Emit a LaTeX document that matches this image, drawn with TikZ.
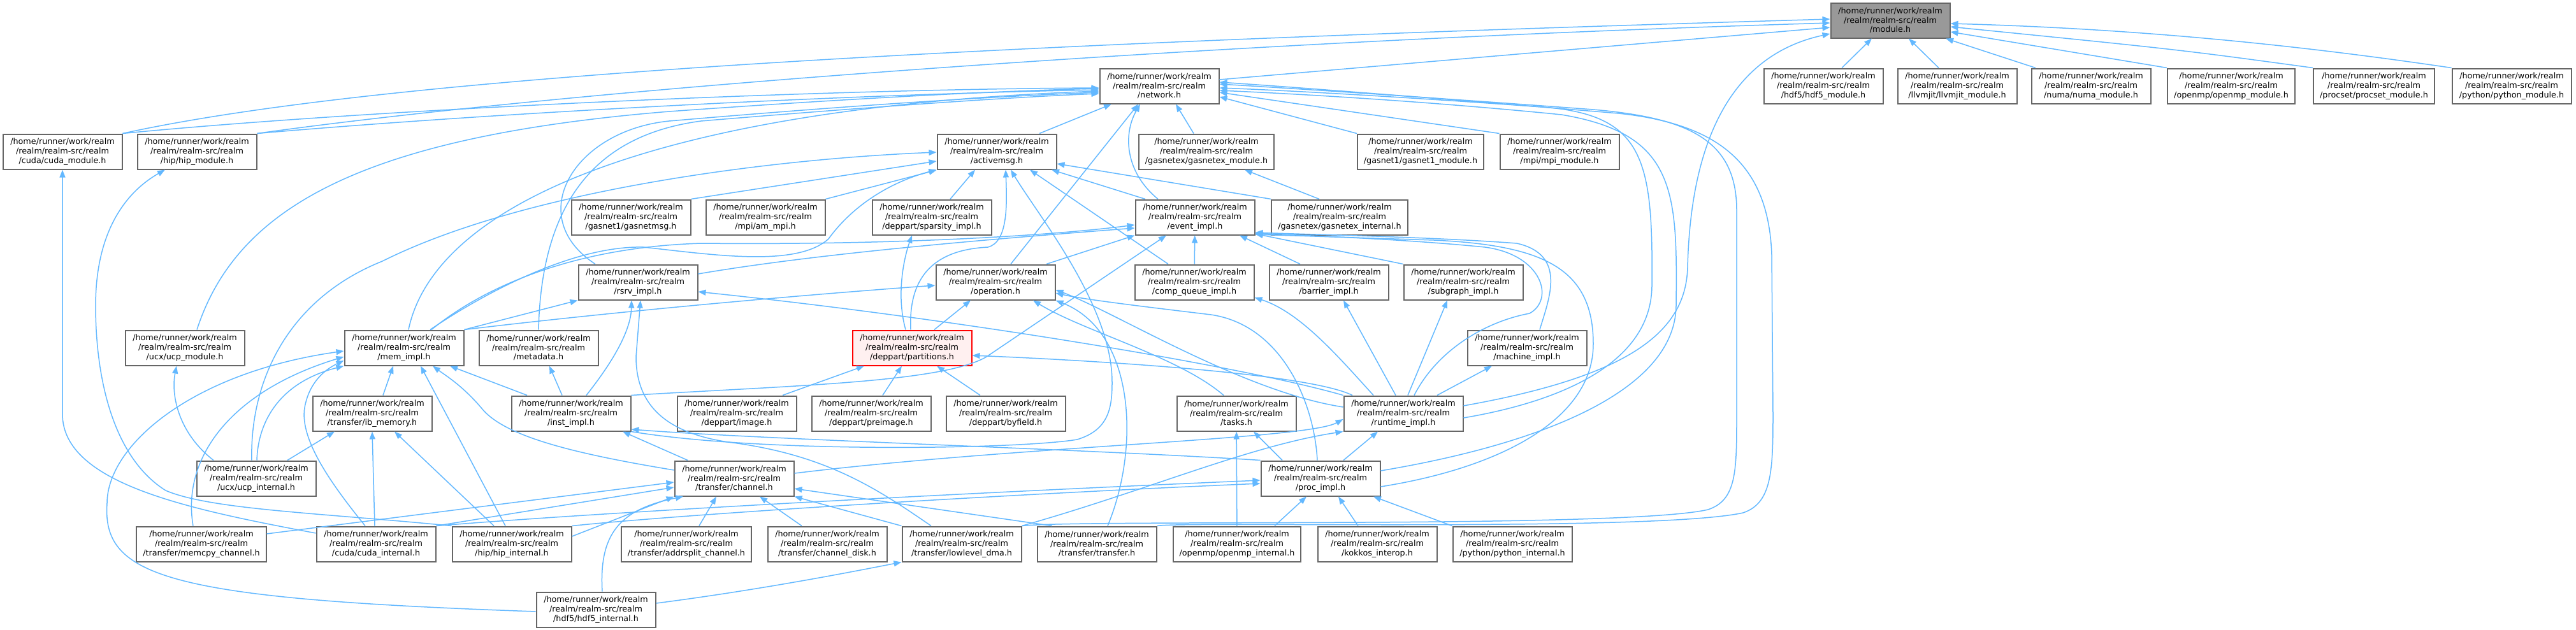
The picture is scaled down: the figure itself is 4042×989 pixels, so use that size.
\documentclass[tikz,border=0pt]{standalone}
\usepackage{fontspec}
\setmainfont{DejaVu Sans}
\usetikzlibrary{arrows.meta}
\definecolor{incblue}{HTML}{63B8FF}
\definecolor{boxline}{HTML}{666666}
\definecolor{topfill}{HTML}{999999}
\definecolor{truncfill}{HTML}{FFF0F0}
\newcommand{\rfile}[1]{/home/runner/work/realm\\/realm/realm-src/realm\\/#1}

\begin{document}
\begin{tikzpicture}[x=0.1mm, y=-0.1mm,
    hbox/.style = {draw=boxline, line width=0.2mm, fill=white, align=center, minimum width=18.7mm, minimum height=5.5mm, inner xsep=1mm, inner ysep=0.3mm, font=\fontsize{3.63}{4.18}\selectfont},
    hmain/.style = {hbox, fill=topfill},
    htrunc/.style = {hbox, draw=red, fill=truncfill},
    inc/.style = {draw=incblue, line width=0.15mm, -{Triangle[length=1.2mm, width=0.9mm]}}]
  \useasboundingbox (0,0) rectangle (4042,989);

  \node[hmain] (module) at (2966,32) {\rfile{module.h}};
  \node[hbox] (network) at (1819,135) {\rfile{network.h}}; \node[hbox] (hdf5mod) at (2861,135) {\rfile{hdf5/hdf5\_module.h}};
  \node[hbox] (llvmmod) at (3071,135) {\rfile{llvmjit/llvmjit\_module.h}}; \node[hbox] (numamod) at (3281,135) {\rfile{numa/numa\_module.h}};
  \node[hbox] (ompmod) at (3501,135) {\rfile{openmp/openmp\_module.h}}; \node[hbox] (procsetmod) at (3725,135) {\rfile{procset/procset\_module.h}};
  \node[hbox] (pymod) at (3941,135) {\rfile{python/python\_module.h}};
  \node[hbox] (cudamod) at (98,238) {\rfile{cuda/cuda\_module.h}}; \node[hbox] (hipmod) at (309,238) {\rfile{hip/hip\_module.h}};
  \node[hbox] (activemsg) at (1564,238) {\rfile{activemsg.h}}; \node[hbox] (gexmod) at (1893,238) {\rfile{gasnetex/gasnetex\_module.h}};
  \node[hbox] (gasnet1mod) at (2229,238) {\rfile{gasnet1/gasnet1\_module.h}}; \node[hbox] (mpimod) at (2447,238) {\rfile{mpi/mpi\_module.h}};
  \node[hbox] (gasnetmsg) at (990,341) {\rfile{gasnet1/gasnetmsg.h}}; \node[hbox] (ammpi) at (1201,341) {\rfile{mpi/am\_mpi.h}};
  \node[hbox] (sparsity) at (1462,341) {\rfile{deppart/sparsity\_impl.h}}; \node[hbox] (eventimpl) at (1875,341) {\rfile{event\_impl.h}};
  \node[hbox] (gexint) at (2102,341) {\rfile{gasnetex/gasnetex\_internal.h}};
  \node[hbox] (rsrv) at (1001,443) {\rfile{rsrv\_impl.h}}; \node[hbox] (operation) at (1562,443) {\rfile{operation.h}};
  \node[hbox] (compqueue) at (1874,443) {\rfile{comp\_queue\_impl.h}}; \node[hbox] (barrier) at (2085,443) {\rfile{barrier\_impl.h}};
  \node[hbox] (subgraph) at (2296,443) {\rfile{subgraph\_impl.h}};
  \node[hbox] (ucpmod) at (290,546) {\rfile{ucx/ucp\_module.h}}; \node[hbox] (memimpl) at (634,546) {\rfile{mem\_impl.h}};
  \node[hbox] (metadata) at (845,546) {\rfile{metadata.h}}; \node[htrunc] (partitions) at (1431,546) {\rfile{deppart/partitions.h}};
  \node[hbox] (machine) at (2396,546) {\rfile{machine\_impl.h}};
  \node[hbox] (ibmem) at (584,649) {\rfile{transfer/ib\_memory.h}}; \node[hbox] (instimpl) at (896,649) {\rfile{inst\_impl.h}};
  \node[hbox] (image) at (1156,649) {\rfile{deppart/image.h}}; \node[hbox] (preimage) at (1367,649) {\rfile{deppart/preimage.h}};
  \node[hbox] (byfield) at (1578,649) {\rfile{deppart/byfield.h}}; \node[hbox] (tasks) at (1940,649) {\rfile{tasks.h}};
  \node[hbox] (runtime) at (2202,649) {\rfile{runtime\_impl.h}};
  \node[hbox] (ucpint) at (402,751) {\rfile{ucx/ucp\_internal.h}}; \node[hbox] (channel) at (1152,751) {\rfile{transfer/channel.h}};
  \node[hbox] (procimpl) at (2072,751) {\rfile{proc\_impl.h}};
  \node[hbox] (memcpy) at (316,854) {\rfile{transfer/memcpy\_channel.h}}; \node[hbox] (cudaint) at (590,854) {\rfile{cuda/cuda\_internal.h}};
  \node[hbox] (hipint) at (803,854) {\rfile{hip/hip\_internal.h}}; \node[hbox] (addrsplit) at (1077,854) {\rfile{transfer/addrsplit\_channel.h}};
  \node[hbox] (chandisk) at (1298,854) {\rfile{transfer/channel\_disk.h}}; \node[hbox] (lldma) at (1509,854) {\rfile{transfer/lowlevel\_dma.h}};
  \node[hbox] (transfer) at (1721,854) {\rfile{transfer/transfer.h}}; \node[hbox] (ompint) at (1941,854) {\rfile{openmp/openmp\_internal.h}};
  \node[hbox] (kokkos) at (2161,854) {\rfile{kokkos\_interop.h}}; \node[hbox] (pyint) at (2373,854) {\rfile{python/python\_internal.h}};
  \node[hbox] (hdf5int) at (935,957) {\rfile{hdf5/hdf5\_internal.h}};

  \draw[inc] (hdf5mod) -- (module); \draw[inc] (llvmmod) -- (module); \draw[inc] (numamod) -- (module);
  \draw[inc] (ompmod.north west) -- ([yshift=-1.8mm]module.east);
  \draw[inc] (procsetmod.north west) .. controls (3420,78) .. ([yshift=-1mm]module.east);
  \draw[inc] (pymod.north west) .. controls (3600,70) and (3350,45) .. ([yshift=-0.5mm]module.east);
  \draw[inc] ([yshift=1mm]network.east) -- ([yshift=-1.1mm]module.west);
  \draw[inc] (cudamod.north east) .. controls (600,120) and (1500,70) .. ([yshift=0.2mm]module.west);
  \draw[inc] (hipmod.north east) .. controls (900,140) and (1900,65) .. ([yshift=-0.4mm]module.west);
  \draw[inc] ([yshift=1.2mm]runtime.east) .. controls (2560,590) and (2645,520) .. (2648,420) .. controls (2652,250) and (2700,90) .. ([yshift=-2.1mm]module.west);

  \draw[inc] ([xshift=6.7mm]activemsg.north) -- ([xshift=-7.5mm]network.south);
  \draw[inc] ([xshift=-2mm]gexmod.north) -- ([xshift=2.6mm]network.south);
  \draw[inc] ([xshift=-5.8mm]eventimpl.north) .. controls (1765,270) and (1762,210) .. ([xshift=-3mm]network.south);
  \draw[inc] ([xshift=2.4mm]operation.north) -- ([xshift=-3.3mm]network.south);
  \draw[inc] (gasnet1mod.north west) -- ([yshift=-1.7mm]network.east);
  \draw[inc] (mpimod.north west) -- ([yshift=-1mm]network.east);
  \draw[inc] (cudamod.north east) .. controls (600,170) and (1300,140) .. ([yshift=-0.3mm]network.west);
  \draw[inc] (hipmod.north east) .. controls (800,175) and (1350,148) .. ([yshift=-0.6mm]network.west);
  \draw[inc] ([xshift=1.9mm]ucpmod.north) .. controls (370,330) and (560,215) .. (1050,175) .. controls (1400,150) and (1600,142) .. ([yshift=-0.4mm]network.west);
  \draw[inc] ([xshift=0.7mm]memimpl.north) .. controls (680,330) and (1000,170) .. ([yshift=-0.8mm]network.west);
  \draw[inc] ([xshift=-6.7mm]rsrv.north) .. controls (820,340) and (900,205) .. (1050,190) .. controls (1400,160) and (1600,150) .. ([yshift=-1mm]network.west);
  \draw[inc] (metadata.north) .. controls (850,300) and (950,210) .. (1100,190) .. controls (1400,165) and (1600,152) .. ([yshift=-1.2mm]network.west);
  \draw[inc] ([yshift=-0.7mm]runtime.east) .. controls (2450,630) and (2590,570) .. (2592,450) .. controls (2594,250) and (2580,180) .. (2420,168) .. controls (2200,152) and (2020,142) .. ([yshift=-0.3mm]network.east);
  \draw[inc] ([yshift=1.2mm]procimpl.east) .. controls (2400,700) and (2628,620) .. (2630,480) .. controls (2632,300) and (2630,210) .. (2450,180) .. controls (2250,160) and (2050,148) .. ([yshift=-0.7mm]network.east);
  \draw[inc] (lldma.north east) .. controls (1700,815) and (2550,830) .. (2680,800) .. controls (2725,785) and (2725,740) .. (2725,650) -- (2725,330) .. controls (2725,220) and (2650,185) .. (2500,172) .. controls (2300,157) and (2050,140) .. ([yshift=0.3mm]network.east);
  \draw[inc] (transfer.north east) .. controls (1860,818) and (2600,835) .. (2735,805) .. controls (2780,790) and (2782,740) .. (2782,650) -- (2780,400) .. controls (2775,260) and (2700,195) .. (2540,178) .. controls (2300,158) and (2050,138) .. ([yshift=0.6mm]network.east);

  \draw[inc] (gasnetmsg.north east) -- ([yshift=-1.5mm]activemsg.west);
  \draw[inc] (ammpi.north east) -- ([yshift=-2.9mm]activemsg.west);
  \draw[inc] ([xshift=2.9mm]sparsity.north) -- ([xshift=-3.4mm]activemsg.south);
  \draw[inc] ([xshift=-7.8mm]eventimpl.north) -- ([xshift=8.6mm]activemsg.south);
  \draw[inc] (gexint.north west) -- ([yshift=-1.9mm]activemsg.east);
  \draw[inc] ([xshift=-4.1mm]compqueue.north) -- ([xshift=5.2mm]activemsg.south);
  \draw[inc] ([xshift=-0.2mm]partitions.north) .. controls (1425,430) and (1470,392) .. (1550,388) .. controls (1582,380) and (1580,320) .. ([xshift=1.4mm]activemsg.south);
  \draw[inc] ([xshift=4.1mm]memimpl.north) .. controls (760,460) and (900,385) .. (1010,388) .. controls (1120,400) and (1250,420) .. (1300,375) .. controls (1340,320) and (1400,285) .. (activemsg.south west);
  \draw[inc] ([xshift=-0.7mm]ucpint.north) .. controls (392,600) and (450,470) .. (600,410) .. controls (820,300) and (1200,250) .. ([yshift=-0.1mm]activemsg.west);
  \draw[inc] (instimpl.south east) .. controls (1200,712) and (1600,705) .. (1690,690) .. controls (1740,675) and (1745,640) .. (1745,600) .. controls (1745,480) and (1630,340) .. ([xshift=2.2mm]activemsg.south);
  \draw[inc] ([xshift=-3.2mm]gexint.north) -- ([xshift=6mm]gexmod.south);

  \draw[inc] ([xshift=8mm]operation.north) -- (eventimpl.south west);
  \draw[inc] (compqueue) -- (eventimpl);
  \draw[inc] ([xshift=-4.5mm]barrier.north) -- ([xshift=7mm]eventimpl.south);
  \draw[inc] (subgraph.north west) -- ([yshift=-2.6mm]eventimpl.east);
  \draw[inc] ([xshift=4.3mm]memimpl.north) .. controls (760,450) and (900,388) .. (1100,382) .. controls (1400,385) and (1650,370) .. ([yshift=-1.2mm]eventimpl.west);
  \draw[inc] ([yshift=1.3mm]rsrv.east) .. controls (1300,395) and (1600,372) .. ([yshift=-1.7mm]eventimpl.west);
  \draw[inc] (instimpl.north east) .. controls (1250,605) and (1480,600) .. (1548,560) -- ([xshift=-4.5mm]eventimpl.south);
  \draw[inc] ([xshift=1.7mm]runtime.north) .. controls (2255,550) and (2330,505) .. (2400,492) .. controls (2440,470) and (2420,400) .. (2330,388) .. controls (2200,375) and (2050,370) .. ([yshift=-2.5mm]eventimpl.east);
  \draw[inc] ([xshift=2mm]machine.north) .. controls (2430,470) and (2460,400) .. (2380,382) .. controls (2250,372) and (2050,368) .. ([yshift=-2.4mm]eventimpl.east);
  \draw[inc] ([yshift=-1.3mm]procimpl.east) .. controls (2350,735) and (2500,660) .. (2500,540) .. controls (2500,420) and (2420,385) .. (2250,377) -- ([yshift=-2.7mm]eventimpl.east);

  \draw[inc] (memimpl.north east) -- (rsrv.south west);
  \draw[inc] ([xshift=2.4mm]instimpl.north) .. controls (960,570) and (990,520) .. ([xshift=-1mm]rsrv.south);
  \draw[inc] ([xshift=-4.8mm]lldma.north) .. controls (1380,770) and (1300,715) .. (1150,695) .. controls (1050,682) and (998,640) .. (998,560) -- ([xshift=0.4mm]rsrv.south);
  \draw[inc] (runtime.north west) .. controls (1950,575) and (1500,500) .. ([yshift=-1.5mm]rsrv.east);

  \draw[inc] ([xshift=3.5mm]partitions.north) -- ([xshift=-3.9mm]operation.south);
  \draw[inc] (memimpl.north east) .. controls (1000,485) and (1300,460) .. ([yshift=-0.5mm]operation.west);
  \draw[inc] ([xshift=-2mm]tasks.north) .. controls (1850,560) and (1700,520) .. ([xshift=5.9mm]operation.south);
  \draw[inc] ([xshift=-0.5mm]procimpl.north) .. controls (2062,630) and (2010,510) .. (1900,494) .. controls (1800,482) and (1700,470) .. ([yshift=-1.7mm]operation.east);
  \draw[inc] ([yshift=1mm]runtime.west) .. controls (1950,615) and (1750,490) .. ([yshift=-1.2mm]operation.east);
  \draw[inc] ([xshift=1.7mm]transfer.north) .. controls (1790,700) and (1780,520) .. (operation.south east);

  \draw[inc] ([xshift=-4.7mm]runtime.north) .. controls (2100,560) and (2040,490) .. ([yshift=-2.4mm]compqueue.east);
  \draw[inc] ([xshift=-1.2mm]runtime.north) -- ([xshift=2.3mm]barrier.south);
  \draw[inc] ([xshift=0.7mm]runtime.north) -- ([xshift=-2.5mm]subgraph.south);
  \draw[inc] ([xshift=5.3mm]runtime.north) -- ([xshift=-5.5mm]machine.south);
  \draw[inc] ([xshift=-8mm]runtime.north) .. controls (2050,585) and (1700,565) .. ([yshift=-1.2mm]partitions.east);

  \draw[inc] ([xshift=1.7mm]ibmem.north) -- ([xshift=-1.7mm]memimpl.south);
  \draw[inc] ([xshift=-6.9mm]instimpl.north) -- ([xshift=7.2mm]memimpl.south);
  \draw[inc] ([xshift=-1mm]hipint.north) -- ([xshift=2.6mm]memimpl.south);
  \draw[inc] ([yshift=1.3mm]channel.west) .. controls (900,712) and (790,685) .. (755,640) .. controls (725,605) and (700,590) .. ([xshift=4.5mm]memimpl.south);
  \draw[inc] ([xshift=0.1mm]ucpint.north) .. controls (405,660) and (440,600) .. (memimpl.south west);
  \draw[inc] ([xshift=-1.3mm]memcpy.north) .. controls (285,720) and (360,615) .. ([yshift=-1.4mm]memimpl.west);
  \draw[inc] ([xshift=-1.7mm]cudaint.north) .. controls (520,760) and (470,690) .. (478,640) .. controls (485,600) and (510,580) .. ([yshift=-2mm]memimpl.west);
  \draw[inc] ([yshift=-0.3mm]hdf5int.west) .. controls (260,940) and (160,905) .. (168,790) .. controls (168,700) and (300,585) .. ([yshift=-0.5mm]memimpl.west);

  \draw[inc] ([xshift=-1.4mm]instimpl.north) -- ([xshift=1.7mm]metadata.south);
  \draw[inc] ([xshift=7.2mm]image.north) -- ([xshift=-7.5mm]partitions.south);
  \draw[inc] ([xshift=1.8mm]preimage.north) -- ([xshift=-1.6mm]partitions.south);
  \draw[inc] ([xshift=-4mm]byfield.north) -- ([xshift=3.9mm]partitions.south);
  \draw[inc] ([xshift=-1mm]partitions.north) .. controls (1405,460) and (1420,400) .. ([xshift=-3.1mm]sparsity.south);
  \draw[inc] ([xshift=-6.7mm]ucpint.north) .. controls (280,680) and (268,620) .. ([xshift=-1.3mm]ucpmod.south);
  \draw[inc] ([xshift=4.9mm]ucpint.north) -- ([xshift=-5.9mm]ibmem.south);
  \draw[inc] ([xshift=-0.2mm]cudaint.north) -- (ibmem.south);
  \draw[inc] ([xshift=-2.8mm]hipint.north) -- ([xshift=3.5mm]ibmem.south);
  \draw[inc] ([xshift=-7.3mm]channel.north) -- ([xshift=8.1mm]instimpl.south);
  \draw[inc] (procimpl.north west) .. controls (1700,705) and (1200,690) .. ([yshift=-2.5mm]instimpl.east);
  \draw[inc] ([xshift=-6mm]procimpl.north) -- ([xshift=2.7mm]tasks.south);
  \draw[inc] (ompint) -- (tasks);
  \draw[inc] ([xshift=3.6mm]procimpl.north) -- ([xshift=-4mm]runtime.south);
  \draw[inc] (lldma.north east) .. controls (1800,770) and (1960,700) .. (runtime.south west);
  \draw[inc] ([yshift=0.8mm]channel.east) .. controls (1600,700) and (2050,690) .. ([yshift=-0.9mm]runtime.west);
  \draw[inc] ([xshift=5.9mm]ompint.north) -- ([xshift=-2.2mm]procimpl.south);
  \draw[inc] ([xshift=-3mm]kokkos.north) -- ([xshift=2.8mm]procimpl.south);
  \draw[inc] (pyint.north west) -- ([xshift=8.3mm]procimpl.south);
  \draw[inc] (cudaint.north east) .. controls (1000,800) and (1600,770) .. ([yshift=-0.3mm]procimpl.west);
  \draw[inc] (hipint.north east) .. controls (1100,805) and (1600,775) .. ([yshift=-0.8mm]procimpl.west);
  \draw[inc] ([yshift=1.6mm]memcpy.east) -- ([yshift=-0.6mm]channel.west);
  \draw[inc] (cudaint.north east) -- ([yshift=-1.4mm]channel.west);
  \draw[inc] ([yshift=1.2mm]hipint.east) -- (channel.south west);
  \draw[inc] ([xshift=1mm]hdf5int.north) .. controls (940,840) and (970,800) .. ([xshift=-8mm]channel.south);
  \draw[inc] ([xshift=2mm]addrsplit.north) -- ([xshift=-2.8mm]channel.south);
  \draw[inc] ([xshift=-4mm]chandisk.north) -- ([xshift=4mm]channel.south);
  \draw[inc] (lldma.north west) -- (channel.south east);
  \draw[inc] ([xshift=-7mm]transfer.north) -- ([yshift=-1.6mm]channel.east);
  \draw[inc] ([yshift=1mm]hdf5int.east) .. controls (1200,925) and (1350,895) .. (lldma.south west);
  \draw[inc] ([yshift=1.7mm]cudaint.west) .. controls (300,800) and (98,760) .. (98,650) -- (cudamod.south);
  \draw[inc] (hipint.north west) .. controls (500,805) and (330,800) .. (260,770) .. controls (180,720) and (150,600) .. (150,480) .. controls (150,360) and (200,300) .. ([xshift=-5mm]hipmod.south);
\end{tikzpicture}
\end{document}
